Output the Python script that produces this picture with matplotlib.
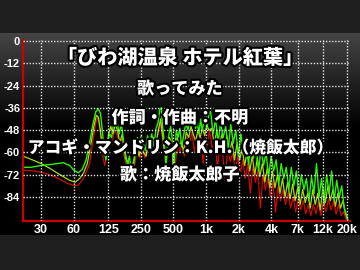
import numpy as np
import matplotlib
matplotlib.use('Agg')
import matplotlib.pyplot as plt
import matplotlib.patheffects as pe
from matplotlib.ticker import NullLocator

# tick positions / labels
X_TICKS = [30, 60, 125, 250, 500, 1000, 2000, 4000, 7000, 12000, 20000]
X_LABELS = ['30', '60', '125', '250', '500', '1k', '2k', '4k', '7k', '12k', '20k']
Y_TICKS = [0, -12, -24, -36, -48, -60, -72, -84]

# overlay captions
CAPTIONS = [
    '「びわ湖温泉 ホテル紅葉」',
    '歌ってみた',
    '作詞・作曲：不明',
    'アコギ・マンドリン：K.H.（焼飯太郎）',
    '歌：焼飯太郎子',
]

# spectrum traces (Hz, dB)
RED_HZ = [20.4, 26, 32, 38, 45, 52, 58, 65, 72, 78, 84, 90, 96, 101, 106, 111, 116, 121, 128, 135,
          142, 150, 158, 166, 175, 185, 198, 208, 220, 232, 245, 258, 272, 288, 305, 322, 340, 360, 378, 395,
          412, 430, 450, 470, 490, 505, 525, 548, 575, 600, 630, 665, 700, 740, 780, 820, 860, 900, 940, 985,
          1030, 1075, 1140, 1210, 1270, 1345, 1420, 1500, 1580, 1670, 1760, 1860, 1960, 2070, 2180, 2300, 2420, 2560, 2700, 2850,
          3000, 3170, 3340, 3520, 3720, 3920, 4140, 4370, 4610, 4860, 5130, 5410, 5710, 6030, 6360, 6710, 7080, 7470, 7880, 8320,
          8780, 9260, 9770, 10310, 10880, 11480, 12110, 12780, 13480, 14220, 15000, 15830, 16700, 17620, 18590, 19610, 20500]
RED_DB = [-69.5, -70, -71, -72.5, -74.5, -76.5, -77.5, -78, -75, -71, -66, -54, -44, -41, -50, -62, -67, -60, -53, -56,
          -48, -50, -56, -52, -62, -68, -72, -74, -66, -58, -63, -57, -63, -56, -60, -54, -58, -50, -44, -52,
          -60, -65, -58, -55, -58, -76, -64, -55, -60, -54, -62, -52, -56, -49, -60, -52, -58, -52, -66, -52,
          -56, -48, -58, -54, -68, -56, -60, -75, -58, -65, -60, -70, -62, -72, -64, -74, -66, -82, -68, -76,
          -70, -90, -72, -80, -74, -84, -76, -92, -78, -86, -80, -88, -82, -90, -84, -92, -85, -91, -86, -93,
          -88, -94, -88, -93, -87, -94, -86, -92, -85, -91, -86, -93, -88, -94, -92, -96, -97]

YEL_HZ = [20.4, 25, 30, 36, 42, 48, 55, 62, 68, 74, 80, 86, 92, 97, 101, 105, 110, 115, 120, 126,
          132, 138, 145, 152, 160, 168, 176, 185, 195, 205, 215, 228, 240, 252, 265, 280, 295, 310, 328, 345,
          362, 380, 395, 410, 425, 442, 460, 478, 495, 515, 540, 565, 592, 620, 655, 690, 725, 760, 800, 840,
          880, 925, 970, 1015, 1060, 1130, 1190, 1255, 1325, 1400, 1475, 1555, 1645, 1735, 1830, 1930, 2040, 2150, 2270, 2395,
          2530, 2665, 2815, 2970, 3130, 3305, 3485, 3680, 3880, 4095, 4320, 4560, 4810, 5075, 5355, 5650, 5960, 6290, 6635, 7000,
          7385, 7790, 8220, 8670, 9150, 9650, 10180, 10740, 11330, 11950, 12610, 13300, 14030, 14800, 15620, 16480, 17380, 18340, 19350, 20500]
YEL_DB = [-62, -64, -66, -68.5, -71, -73, -75, -76, -74, -71, -66, -56, -46, -40, -41, -47, -57, -62, -58, -50,
          -46, -50, -45, -48, -55, -50, -58, -64, -66, -69, -64, -56, -62, -55, -60, -62, -54, -58, -52, -55,
          -48, -42, -50, -58, -62, -57, -52, -55, -63, -58, -52, -56, -54, -60, -49, -52, -46, -50, -54, -48,
          -52, -47, -51, -45, -48, -47, -56, -48, -57, -50, -60, -51, -60, -54, -64, -55, -64, -58, -67, -59,
          -70, -62, -72, -63, -73, -66, -76, -68, -79, -70, -79, -72, -82, -74, -84, -76, -85, -77, -86, -79,
          -88, -80, -87, -82, -90, -80, -88, -82, -91, -79, -87, -78, -86, -80, -89, -82, -90, -86, -93, -97]

GRN_HZ = [20.4, 24, 30, 36, 42, 48, 55, 60, 66, 72, 78, 84, 90, 96, 101, 106, 110, 114, 119, 124,
          128, 134, 140, 146, 152, 158, 165, 172, 180, 188, 196, 205, 213, 222, 232, 242, 252, 262, 275, 288,
          300, 315, 330, 345, 360, 372, 385, 398, 412, 425, 440, 455, 470, 485, 498, 512, 530, 550, 572, 595,
          620, 650, 680, 712, 740, 770, 800, 830, 860, 890, 920, 950, 985, 1020, 1060, 1100, 1160, 1225, 1290, 1360,
          1435, 1515, 1600, 1690, 1780, 1880, 1985, 2095, 2210, 2330, 2460, 2595, 2740, 2890, 3050, 3215, 3390, 3580, 3775, 3985,
          4205, 4435, 4680, 4935, 5210, 5495, 5800, 6115, 6455, 6810, 7185, 7580, 8000, 8440, 8900, 9390, 9910, 10450, 11030, 11640,
          12280, 12950, 13660, 14410, 15210, 16050, 16930, 17860, 18840, 19880, 20500]
GRN_DB = [-68, -68, -67, -66.5, -66, -65.5, -67, -69.5, -71, -69, -64, -55, -45, -38, -36.5, -39, -48, -58, -64, -55,
          -50, -52, -44, -40, -45, -50, -44, -53, -63, -66, -62, -71, -68, -60, -52, -58, -51, -55, -59, -51,
          -56, -50, -57, -47, -44, -37, -36, -47, -55, -67, -56, -50, -46, -52, -74, -62, -48, -52, -47, -57,
          -51, -44, -48, -40, -43, -37, -47, -44, -50, -42, -48, -44, -40, -47, -39, -38, -50, -42, -55, -44,
          -52, -46, -58, -45, -55, -48, -62, -50, -60, -53, -66, -55, -63, -56, -70, -58, -67, -60, -73, -62,
          -70, -64, -77, -66, -74, -68, -80, -68, -78, -70, -83, -72, -80, -74, -86, -73, -82, -66, -84, -74,
          -88, -72, -82, -70, -86, -75, -84, -78, -90, -94, -97]

fig = plt.figure(figsize=(3.6, 2.7), dpi=100, facecolor='#1e1e1e')

# grey-to-black panel behind the analyser
bg = fig.add_axes([0, 35 / 270, 1, 202 / 270])
grad = np.clip(0.27 * (1 - np.arange(202) / 95.0), 0, None)[:, None]
bg.imshow(grad, cmap='gray', vmin=0, vmax=1, aspect='auto', interpolation='bilinear')
bg.set_axis_off()

ax = fig.add_axes([23 / 360, 49 / 270, 327 / 360, 181 / 270])
ax.set_facecolor('none')
ax.set_xscale('log')
ax.set_xlim(20.4, 21300)
ax.set_ylim(-96.9, 0.55)

ax.plot(RED_HZ, RED_DB, color='#d00a00', lw=0.9)
ax.plot(YEL_HZ, YEL_DB, color='#a8dc10', lw=0.9)
ax.plot(GRN_HZ, GRN_DB, color='#2cf400', lw=1.0)

ax.set_xticks(X_TICKS)
ax.set_xticklabels(X_LABELS)
ax.xaxis.set_minor_locator(NullLocator())
ax.set_yticks(Y_TICKS)
ax.set_yticklabels([str(v) for v in Y_TICKS])
ax.grid(True, color='#e4e4e4', linestyle=(0, (1, 1.2)), linewidth=1.0)
ax.set_axisbelow(False)

ax.tick_params(axis='x', length=0, pad=2.5, colors='white', labelsize=9)
ax.tick_params(axis='y', length=0, pad=2, colors='white', labelsize=8)
for lab in ax.get_xticklabels() + ax.get_yticklabels():
    lab.set_fontfamily('Liberation Sans')
    lab.set_fontweight('bold')

for side in ['top', 'right']:
    ax.spines[side].set_visible(False)
for side in ['left', 'bottom']:
    ax.spines[side].set_color('#cc0000')
    ax.spines[side].set_linewidth(1.6)

# captions (white with black outline)
cap_y = [58, 89, 118, 148, 175]
cap_size = [14.5, 12.3, 12.3, 12.1, 12.3]
for txt, yp, fs in zip(CAPTIONS, cap_y, cap_size):
    fig.text(0.5, 1 - yp / 270, txt, ha='center', va='center', color='white',
             fontsize=fs, fontweight='heavy', family=['Noto Sans CJK JP', 'DejaVu Sans'],
             path_effects=[pe.withStroke(linewidth=3, foreground='black')])

fig.savefig('out.png', dpi=100, facecolor=fig.get_facecolor())
